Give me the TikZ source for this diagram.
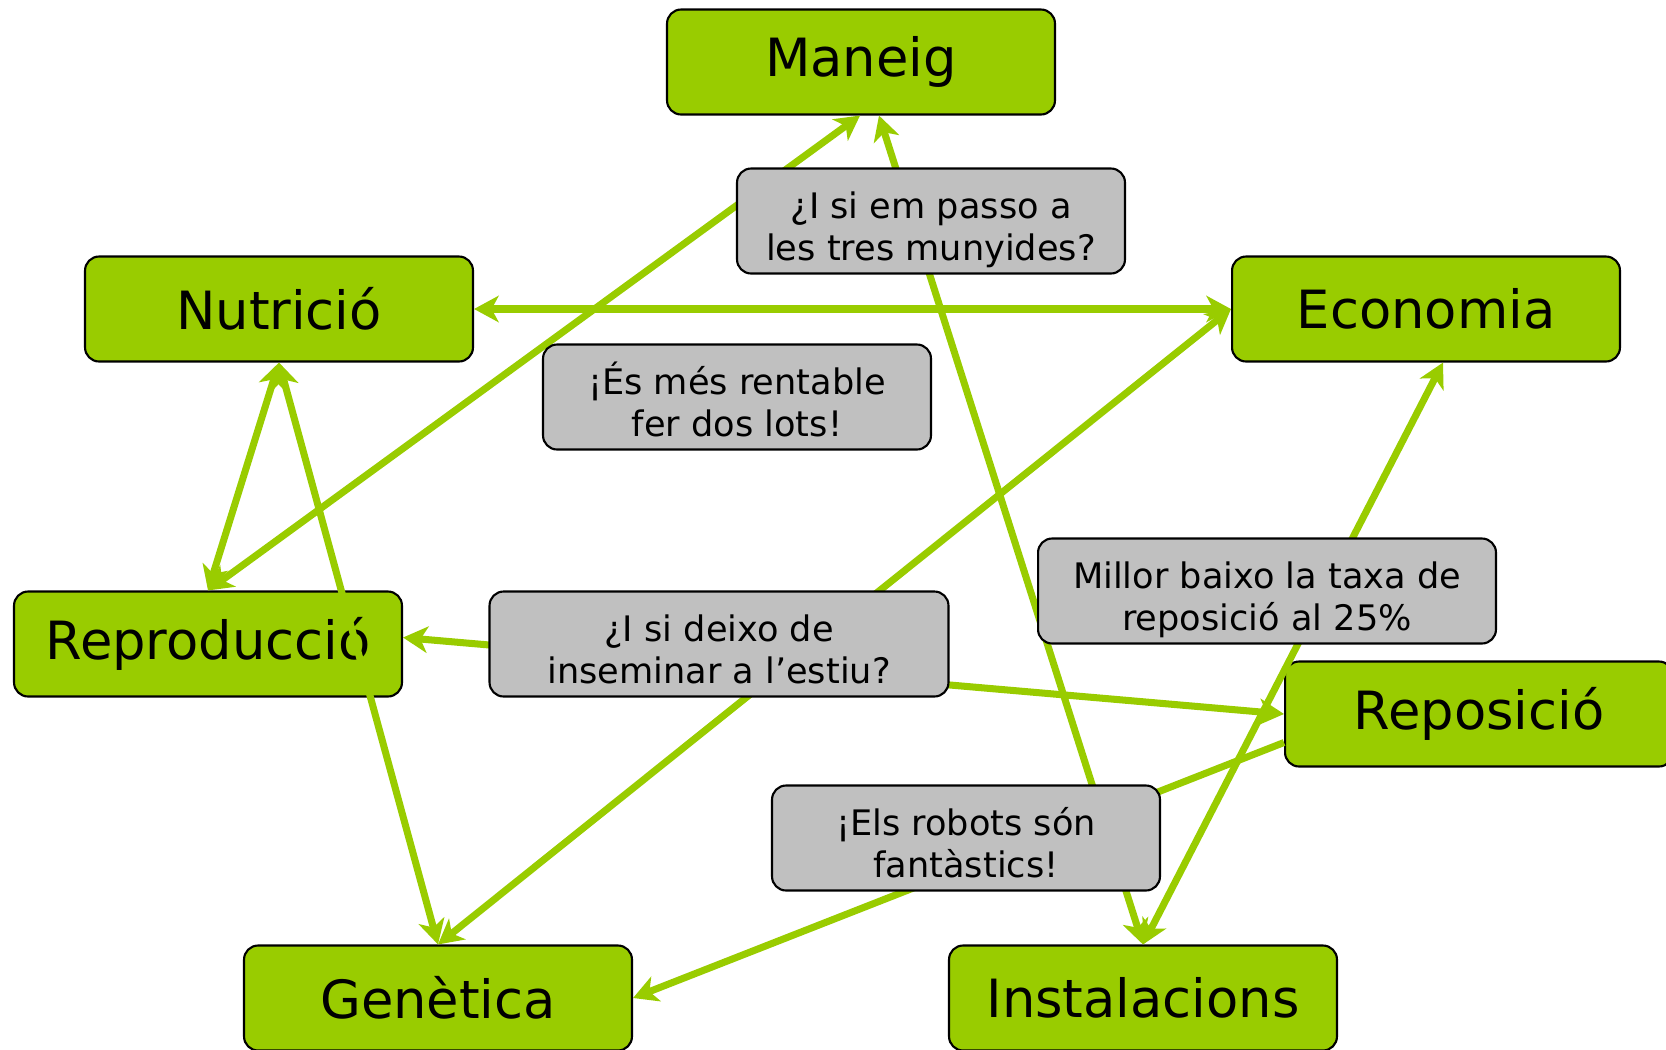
\documentclass[tikz,border=0pt]{standalone}
\usepackage{fontspec}
\setmainfont{DejaVu Sans}
\usetikzlibrary{arrows.meta}
\definecolor{leaf}{HTML}{99CC00}
\definecolor{note}{HTML}{C0C0C0}
\newcommand{\rowstrut}{\rule[-6pt]{0pt}{23pt}}

\begin{document}
\begin{tikzpicture}[x=0.02cm, y=-0.02cm,
    >={Stealth[length=14pt, width=15pt, inset=4pt]},
    topic/.style={draw=black, line width=1.2pt, fill=leaf, rounded corners=0.28cm,
      minimum width=7.76cm, minimum height=2.1cm, font=\fontsize{30}{36}\selectfont},
    remark/.style={draw=black, line width=1.2pt, fill=note, rounded corners=0.28cm,
      minimum height=2.1cm, align=center, font=\fontsize{20}{24}\selectfont,
      text height=45pt, text depth=0pt},
    link/.style={draw=leaf, line width=4pt}]
  \useasboundingbox (0,0) rectangle (1666,1049);

  % Topics
  \node[topic] (maneig) at (861,62) {Maneig};
  \node[topic] (nutricio) at (279,309) {Nutrició};
  \node[topic] (economia) at (1426,309) {Economia};
  \node[topic] (reproduccio) at (208,644) {Reproducció};
  \node[topic] (reposicio) at (1479,714) {Reposició};
  \node[topic] (genetica) at (438,998) {Genètica};
  \node[topic] (instalacions) at (1143,998) {Instalacions};

  % Links between topics
  \draw[link, <->] (nutricio.east) -- (economia.west);
  \draw[link, <->] ([xshift=-0.02cm]maneig.south) -- (reproduccio.north);
  \draw[link, <->] (nutricio.south) -- (reproduccio.north);
  \draw[link, <->] (nutricio.south) -- (genetica.north);
  \draw[link, <->] (economia.west) -- (genetica.north);
  \draw[link, <->] ([xshift=0.34cm]economia.south) -- (instalacions.north);
  \draw[link, <->] ([xshift=0.36cm]maneig.south) -- (instalacions.north);
  \draw[link, <->] ([yshift=0.13cm]reproduccio.east) -- (reposicio.west);
  \draw[link, ->] ([yshift=-0.57cm]reposicio.west) -- (genetica.east);

  % Remarks
  \node[remark, minimum width=7.76cm] (passo) at (931,221)
    {\rowstrut¿I si em passo a\\\rowstrut les tres munyides?};
  \node[remark, minimum width=7.76cm] (rentable) at (737,397)
    {\rowstrut¡És més rentable\\\rowstrut fer dos lots!};
  \node[remark, minimum width=9.16cm] (taxa) at (1267,591)
    {\rowstrut Millor baixo la taxa de\\\rowstrut reposició al 25\%};
  \node[remark, minimum width=9.18cm] (deixo) at (719,644)
    {\rowstrut¿I si deixo de\\\rowstrut inseminar a l’estiu?};
  \node[remark, minimum width=7.76cm] (robots) at (966,838)
    {\rowstrut¡Els robots són\\\rowstrut fantàstics!};
\end{tikzpicture}
\end{document}
